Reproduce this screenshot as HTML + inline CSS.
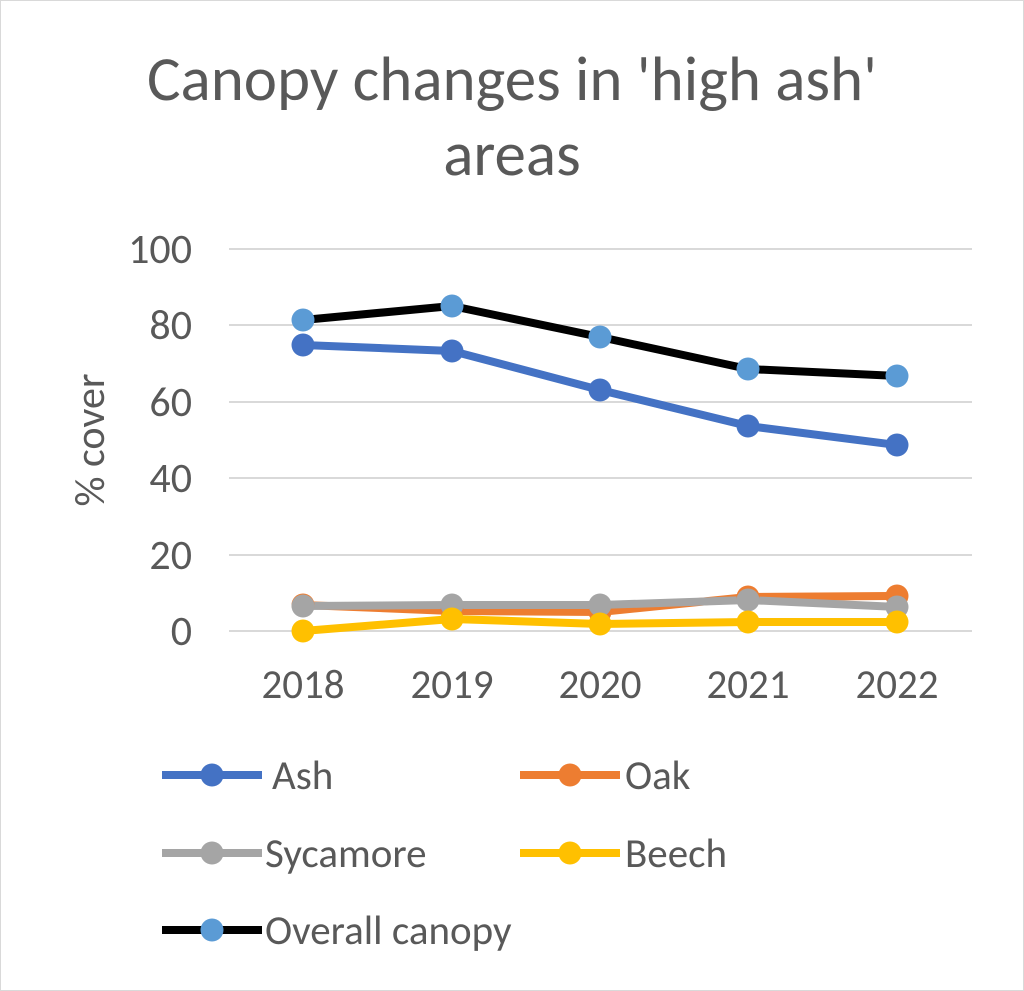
<!DOCTYPE html>
<html><head><style>body{margin:0;background:#fff}svg{display:block}</style></head>
<body>
<svg width="1024" height="991" viewBox="0 0 1024 991" font-family="Calibri,'Liberation Sans',sans-serif">
<rect x="0.5" y="0.5" width="1023" height="990" fill="#fff" stroke="#d9d9d9"/>
<text x="512" y="100" font-size="63" fill="#595959" text-anchor="middle">Canopy changes in 'high ash'</text>
<text x="512" y="175" font-size="63" fill="#595959" text-anchor="middle">areas</text>
<g stroke="#d9d9d9" stroke-width="2">
<line x1="229" x2="972" y1="249" y2="249"/><line x1="229" x2="972" y1="325" y2="325"/>
<line x1="229" x2="972" y1="402" y2="402"/><line x1="229" x2="972" y1="478" y2="478"/>
<line x1="229" x2="972" y1="555" y2="555"/><line x1="229" x2="972" y1="631" y2="631"/>
</g>
<g font-size="42" fill="#595959" text-anchor="end">
<text x="192" y="263">100</text><text x="192" y="339">80</text><text x="192" y="416">60</text>
<text x="192" y="492">40</text><text x="192" y="569">20</text><text x="192" y="645">0</text>
</g>
<g font-size="41" fill="#595959" text-anchor="middle">
<text x="303" y="698">2018</text><text x="452" y="698">2019</text><text x="600" y="698">2020</text>
<text x="748" y="698">2021</text><text x="897" y="698">2022</text>
</g>
<text transform="translate(104,440) rotate(-90)" font-size="42" fill="#595959" text-anchor="middle">% cover</text>
<g fill="none" stroke-width="8" stroke-linejoin="round">
<polyline stroke="#ed7d31" points="303,605 452,611 600,612 748,597 897,596"/>
<polyline stroke="#a5a5a5" points="303,606 452,605 600,605 748,600 897,607"/>
<polyline stroke="#ffc000" points="303,631 452,619 600,624 748,622 897,622"/>
<polyline stroke="#4472c4" points="303,345 452,351 600,390 748,426 897,445"/>
<polyline stroke="#000" points="303,320 452,306 600,337 748,369 897,376"/>
</g>
<g fill="#ed7d31"><circle cx="303" cy="605" r="11.5"/><circle cx="452" cy="611" r="11.5"/><circle cx="600" cy="612" r="11.5"/><circle cx="748" cy="597" r="11.5"/><circle cx="897" cy="596" r="11.5"/></g>
<g fill="#a5a5a5"><circle cx="303" cy="606" r="11.5"/><circle cx="452" cy="605" r="11.5"/><circle cx="600" cy="605" r="11.5"/><circle cx="748" cy="600" r="11.5"/><circle cx="897" cy="607" r="11.5"/></g>
<g fill="#ffc000"><circle cx="303" cy="631" r="11.5"/><circle cx="452" cy="619" r="11.5"/><circle cx="600" cy="624" r="11.5"/><circle cx="748" cy="622" r="11.5"/><circle cx="897" cy="622" r="11.5"/></g>
<g fill="#4472c4"><circle cx="303" cy="345" r="11.5"/><circle cx="452" cy="351" r="11.5"/><circle cx="600" cy="390" r="11.5"/><circle cx="748" cy="426" r="11.5"/><circle cx="897" cy="445" r="11.5"/></g>
<g fill="#5b9bd5"><circle cx="303" cy="320" r="11.5"/><circle cx="452" cy="306" r="11.5"/><circle cx="600" cy="337" r="11.5"/><circle cx="748" cy="369" r="11.5"/><circle cx="897" cy="376" r="11.5"/></g>
<g stroke-width="8">
<line x1="162" x2="262" y1="775" y2="775" stroke="#4472c4"/><circle cx="212" cy="775" r="11.5" fill="#4472c4"/>
<line x1="520" x2="620" y1="775" y2="775" stroke="#ed7d31"/><circle cx="570" cy="775" r="11.5" fill="#ed7d31"/>
<line x1="162" x2="262" y1="853" y2="853" stroke="#a5a5a5"/><circle cx="212" cy="853" r="11.5" fill="#a5a5a5"/>
<line x1="520" x2="620" y1="853" y2="853" stroke="#ffc000"/><circle cx="570" cy="853" r="11.5" fill="#ffc000"/>
<line x1="162" x2="262" y1="930" y2="930" stroke="#000"/><circle cx="212" cy="930" r="11.5" fill="#5b9bd5"/>
</g>
<g font-size="41" fill="#595959">
<text x="272" y="789">Ash</text><text x="625" y="789">Oak</text>
<text x="265" y="867">Sycamore</text><text x="625" y="867">Beech</text>
<text x="265" y="944">Overall canopy</text>
</g>
</svg>
</body></html>
